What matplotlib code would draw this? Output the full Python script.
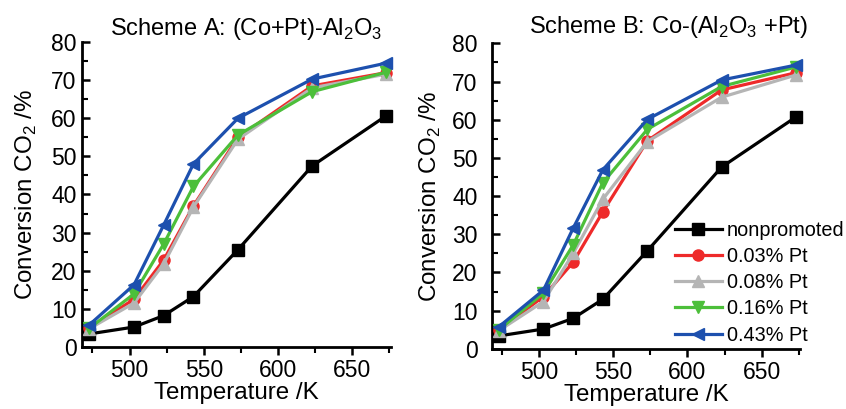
import matplotlib
matplotlib.use("Agg")
import matplotlib.pyplot as plt
from matplotlib.ticker import MultipleLocator

plt.rcParams['font.family'] = ['Liberation Sans', 'DejaVu Sans']
plt.rcParams['mathtext.fontset'] = 'custom'
plt.rcParams['mathtext.rm'] = 'Liberation Sans'

T = [473, 503, 523, 543, 573, 623, 673]

A_non = [3.4, 5.2, 8.2, 13.2, 25.5, 47.5, 60.7]
A_003 = [5.0, 12.5, 22.8, 37.0, 55.0, 68.5, 72.0]
A_008 = [4.8, 11.5, 21.8, 36.7, 54.5, 68.0, 71.6]
A_016 = [4.9, 13.9, 27.0, 42.1, 55.6, 67.0, 72.1]
A_043 = [5.8, 16.3, 32.0, 48.0, 60.0, 70.3, 74.5]

B_non = [3.4, 5.2, 8.0, 13.0, 25.7, 47.6, 60.7]
B_003 = [5.0, 13.7, 22.7, 35.9, 54.5, 67.8, 72.3]
B_008 = [4.8, 12.4, 25.0, 39.2, 54.3, 65.9, 71.7]
B_016 = [5.0, 14.6, 27.2, 43.5, 57.5, 68.7, 73.8]
B_043 = [5.8, 15.4, 31.6, 46.9, 60.1, 70.4, 74.3]

labels = ['nonpromoted', '0.03% Pt', '0.08% Pt', '0.16% Pt', '0.43% Pt']
colors = ['#000000', '#ee2a2a', '#b5b5b5', '#4cbf3a', '#1d50ae']
markers = ['s', 'o', '^', 'v', '<']

titles = ['Scheme A: (Co+Pt)-Al$_2$O$_3$', 'Scheme B: Co-(Al$_2$O$_3$ +Pt)']
xlabel = 'Temperature /K'
ylabel = 'Conversion CO$_2$ /%'

fig = plt.figure(figsize=(8.46, 4.09), dpi=100)
axA = fig.add_axes([0.097, 0.152, 0.365, 0.745])
axB = fig.add_axes([0.581, 0.147, 0.365, 0.747])

sets = [[A_non, A_003, A_008, A_016, A_043], [B_non, B_003, B_008, B_016, B_043]]
ypads = [4, 10]
ylab_x = [-0.141, -0.157]
handles = []
for ax, series, ypad, lx in zip([axA, axB], sets, ypads, ylab_x):
    hs = []
    for y, c, m, lab in zip(series, colors, markers, labels):
        h, = ax.plot(T, y, color=c, marker=m, markersize=8, lw=2.3,
                     markeredgecolor=c, label=lab, clip_on=False, zorder=3)
        hs.append(h)
    handles = hs
    ax.set_xlim(468, 676)
    ax.set_ylim(0, 80)
    ax.spines['top'].set_visible(False)
    ax.spines['right'].set_visible(False)
    ax.spines['left'].set_linewidth(2)
    ax.spines['bottom'].set_linewidth(2)
    ax.xaxis.set_major_locator(MultipleLocator(50))
    ax.xaxis.set_minor_locator(MultipleLocator(25))
    ax.yaxis.set_major_locator(MultipleLocator(10))
    ax.yaxis.set_minor_locator(MultipleLocator(5))
    ax.tick_params(axis='x', which='major', direction='out', length=6, width=1.8, labelsize=16.5, pad=3)
    ax.tick_params(axis='x', which='minor', direction='out', length=4, width=1.5)
    ax.tick_params(axis='y', which='major', direction='in', length=6, width=1.8, labelsize=16.5, pad=ypad)
    ax.tick_params(axis='y', which='minor', direction='in', length=4, width=1.5)
    ax.set_xlabel(xlabel, fontsize=17.4, labelpad=0)
    ax.set_ylabel(ylabel, fontsize=17.4)
    ax.yaxis.set_label_coords(lx, 0.5)

fig.text(246 / 846, 1 - 35 / 409, titles[0], fontsize=17, ha='center', va='baseline')
fig.text(668 / 846, 1 - 33 / 409, titles[1], fontsize=17, ha='center', va='baseline')

axB.legend(handles=handles, loc='upper left', bbox_to_anchor=(675 / 846, 1 - 221 / 409),
           bbox_transform=fig.transFigure, frameon=False, fontsize=14.3,
           handlelength=2.36, handletextpad=0.25, labelspacing=0.36, borderpad=0, borderaxespad=0)

fig.savefig('out.png', dpi=100)
